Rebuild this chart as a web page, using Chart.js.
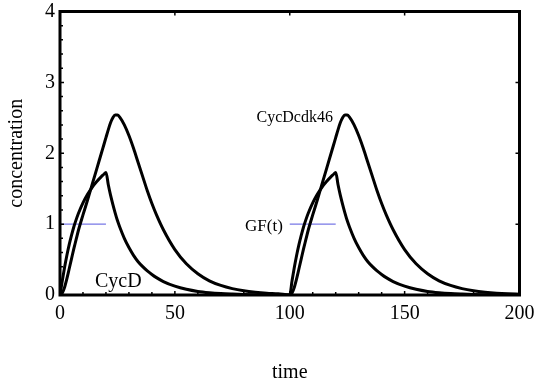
<!DOCTYPE html>
<html>
<head>
<meta charset="utf-8">
<script src="https://cdn.jsdelivr.net/npm/chart.js@4"></script>
<style>
  body { margin: 0; background: #fff; }
</style>
</head>
<body>
<canvas id="myChart" width="535" height="388"></canvas>
<script>
// time points (same sampling in both pulses)
const time = [0,1,2,3,4,5,6,7,8,10,12,14,16,18,19,20,21,22,23,24,25,26,28,30,32,34,36,38,40,42,45,50,55,60,65,70,75,80,85,90,95,
              100,101,102,103,104,105,106,107,108,110,112,114,116,118,119,120,121,122,123,124,125,126,128,130,132,134,136,138,140,142,145,150,155,160,165,170,175,180,185,190,195,200];

const cycD = [0,0.20,0.39,0.56,0.71,0.84,0.96,1.06,1.15,1.30,1.42,1.52,1.60,1.67,1.70,1.73,1.56,1.41,1.28,1.16,1.05,0.96,0.80,0.67,0.56,0.47,0.40,0.34,0.29,0.245,0.19,0.125,0.08,0.05,0.032,0.02,0.013,0.008,0.005,0.003,0.002,
              0,0.20,0.39,0.56,0.71,0.84,0.96,1.06,1.15,1.30,1.42,1.52,1.60,1.67,1.70,1.73,1.56,1.41,1.28,1.16,1.05,0.96,0.80,0.67,0.56,0.47,0.40,0.34,0.29,0.245,0.19,0.125,0.08,0.05,0.032,0.02,0.013,0.008,0.005,0.003,0.002,0.001];

const cycDcdk46 = [0,0.03,0.11,0.23,0.37,0.51,0.65,0.78,0.91,1.13,1.34,1.56,1.78,2.00,2.11,2.22,2.33,2.43,2.50,2.54,2.54,2.51,2.40,2.25,2.07,1.87,1.67,1.47,1.29,1.13,0.92,0.64,0.44,0.30,0.20,0.135,0.09,0.06,0.04,0.026,0.017,
                   0,0.03,0.11,0.23,0.37,0.51,0.65,0.78,0.91,1.13,1.34,1.56,1.78,2.00,2.11,2.22,2.33,2.43,2.50,2.54,2.54,2.51,2.40,2.25,2.07,1.87,1.67,1.47,1.29,1.13,0.92,0.64,0.44,0.30,0.20,0.135,0.09,0.06,0.04,0.026,0.017,0.011];

// growth factor pulses
const gfTime = [0,20,60,100,120];
const gfValue = [1,1,null,1,1];

const xTicks = [0,50,100,150,200];
const yTicks = [0,1,2,3,4];

const serif = "'Liberation Serif', 'Times New Roman', serif";

function pts(xs, ys) {
    return xs.map((t, i) => ({x: t, y: ys[i]}));
}

// frame, inside tick marks and curve labels
const framePlugin = {
    id: 'frame',
    afterDatasetsDraw(chart) {
        const {ctx, chartArea: a, scales: {x, y}} = chart;
        ctx.save();
        ctx.strokeStyle = '#000';
        ctx.lineWidth = 1.5;
        ctx.beginPath();
        for (let t = 0; t <= 200; t += 10) {
            const px = x.getPixelForValue(t);
            const major = xTicks.includes(t);
            ctx.moveTo(px, a.bottom); ctx.lineTo(px, a.bottom - (major ? 4 : 3));
            if (major) { ctx.moveTo(px, a.top); ctx.lineTo(px, a.top + 4); }
        }
        for (let k = 0; k <= 20; k++) {
            const py = y.getPixelForValue(k / 5);
            const major = k % 5 === 0;
            ctx.moveTo(a.left, py); ctx.lineTo(a.left + (major ? 4 : 3), py);
            if (major) { ctx.moveTo(a.right, py); ctx.lineTo(a.right - 4, py); }
        }
        ctx.stroke();
        ctx.lineWidth = 3;
        ctx.strokeRect(a.left, a.top, a.right - a.left, a.bottom - a.top);

        ctx.fillStyle = '#000';
        ctx.textBaseline = 'alphabetic';
        ctx.font = '20px ' + serif;
        ctx.textAlign = 'left';
        ctx.fillText('CycD', x.getPixelForValue(15.2), y.getPixelForValue(0.11));
        ctx.font = '16px ' + serif;
        ctx.textAlign = 'right';
        ctx.fillText('CycDcdk46', x.getPixelForValue(118.8), y.getPixelForValue(2.44));
        ctx.font = '17px ' + serif;
        ctx.fillText('GF(t)', x.getPixelForValue(97), y.getPixelForValue(0.9));
        ctx.restore();
    }
};

const chartElement = document.getElementById('myChart');

new Chart(chartElement, {
    type: 'line',
    data: {
        datasets: [
            {
                label: 'CycD',
                data: pts(time, cycD),
                borderColor: '#000',
                borderWidth: 3,
                pointRadius: 0,
                cubicInterpolationMode: 'monotone'
            },
            {
                label: 'CycDcdk46',
                data: pts(time, cycDcdk46),
                borderColor: '#000',
                borderWidth: 3,
                pointRadius: 0,
                cubicInterpolationMode: 'monotone'
            },
            {
                label: 'GF(t)',
                data: pts(gfTime, gfValue),
                borderColor: 'rgb(120,120,230)',
                borderWidth: 1.2,
                pointRadius: 0,
                spanGaps: false
            }
        ]
    },
    options: {
        responsive: false,
        animation: false,
        layout: {
            padding: {left: 0, right: 15.5, top: 11.5, bottom: 0}
        },
        plugins: {
            legend: {display: false},
            tooltip: {enabled: false}
        },
        scales: {
            x: {
                type: 'linear',
                min: 0,
                max: 200,
                afterFit: s => { s.height = 93; s.paddingLeft = 0; s.paddingRight = 0; },
                afterBuildTicks: s => { s.ticks = xTicks.map(v => ({value: v})); },
                grid: {display: false, drawTicks: false},
                border: {display: false},
                ticks: {
                    color: '#000',
                    padding: 7,
                    maxRotation: 0,
                    font: {family: serif, size: 20}
                },
                title: {
                    display: true,
                    text: 'time',
                    color: '#000',
                    padding: {top: 0, bottom: 3},
                    font: {family: serif, size: 20}
                }
            },
            y: {
                min: 0,
                max: 4,
                afterFit: s => { s.width = 60; s.paddingTop = 0; s.paddingBottom = 0; },
                afterBuildTicks: s => { s.ticks = yTicks.map(v => ({value: v})); },
                grid: {display: false, drawTicks: false},
                border: {display: false},
                ticks: {
                    color: '#000',
                    padding: 5,
                    font: {family: serif, size: 20}
                },
                title: {
                    display: true,
                    text: 'concentration',
                    color: '#000',
                    padding: {top: 5, bottom: 0},
                    font: {family: serif, size: 20}
                }
            }
        }
    },
    plugins: [framePlugin]
});
</script>
</body>
</html>
